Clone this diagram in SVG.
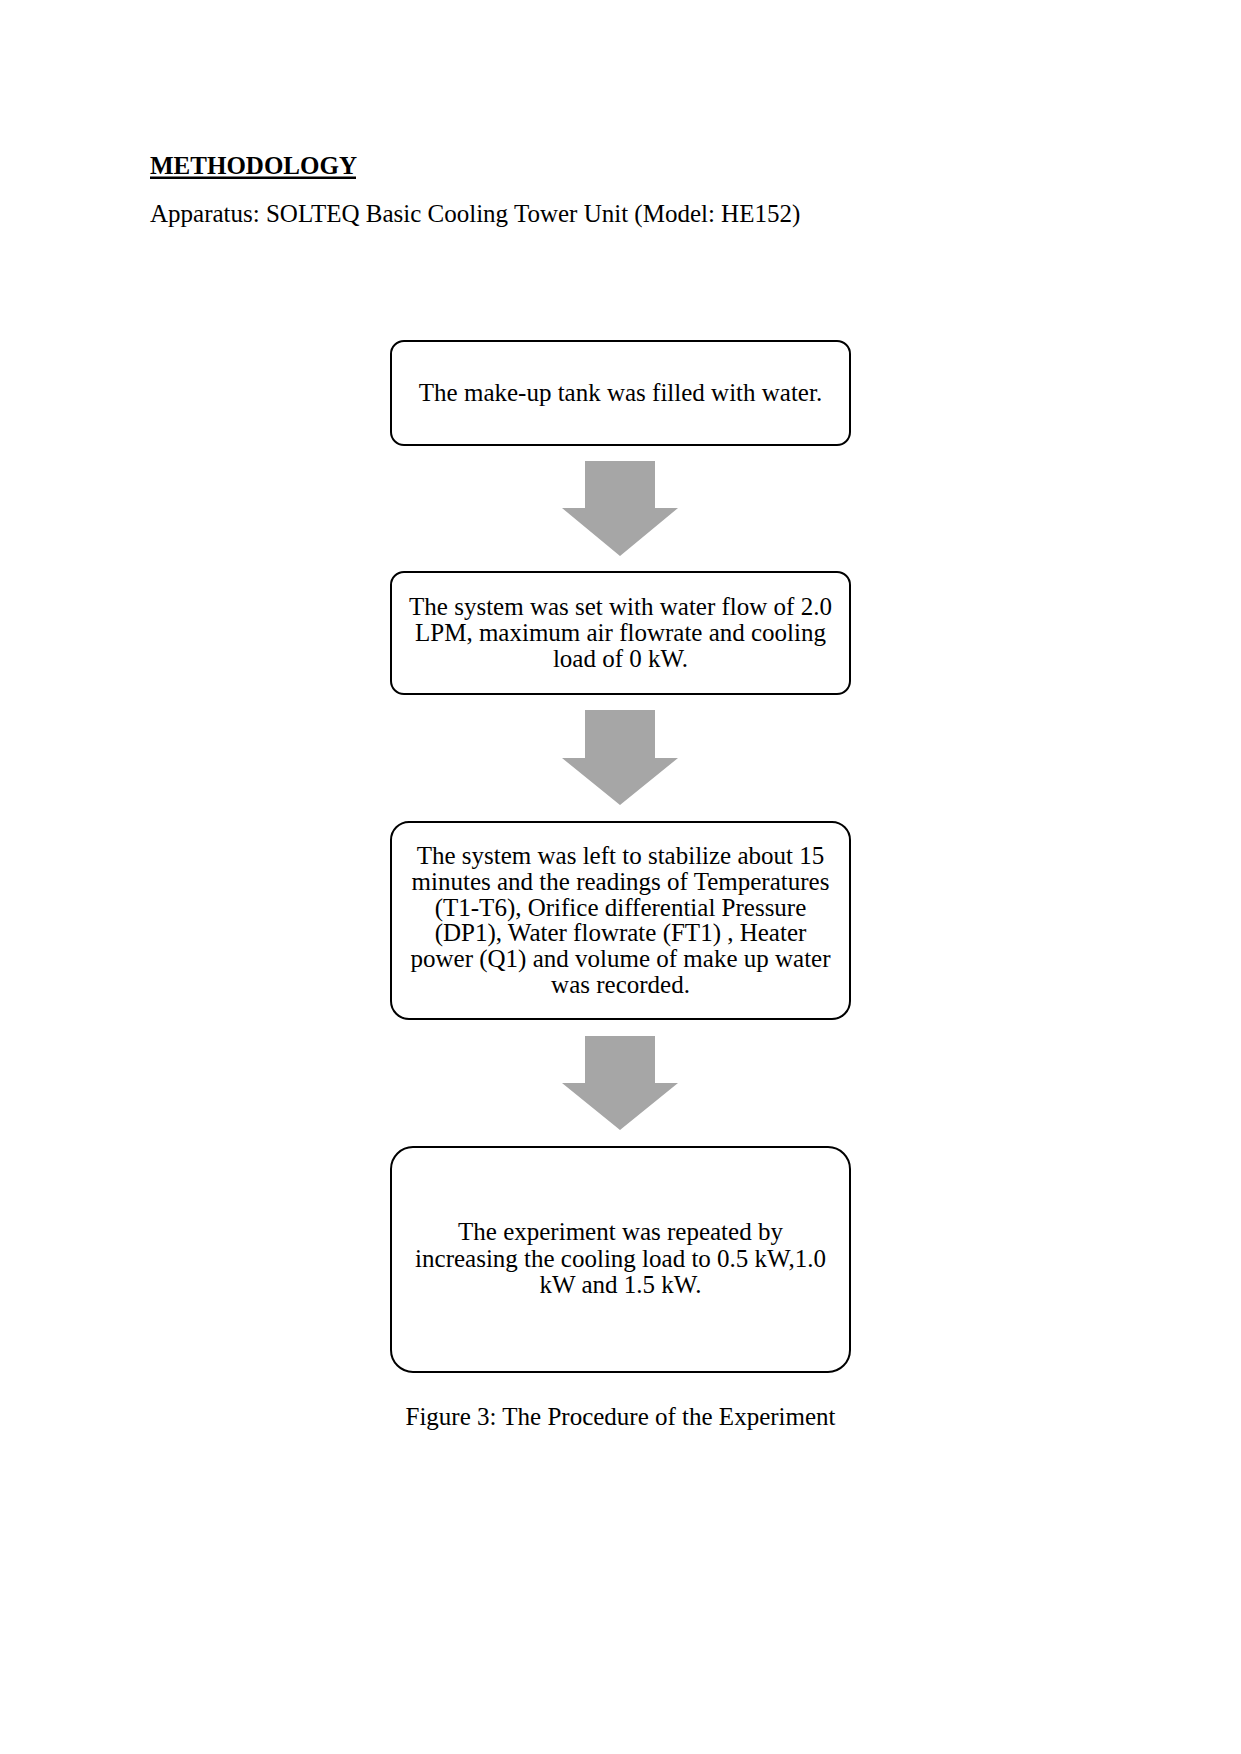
<svg xmlns="http://www.w3.org/2000/svg" width="1241" height="1754" viewBox="0 0 1241 1754">
<style>
text{font-family:"Liberation Serif","Times New Roman",serif;font-size:25px;fill:#000}
.c{text-anchor:middle}
.box{fill:#fff;stroke:#000;stroke-width:2}
.arr{fill:#a6a6a6}
</style>
<rect width="1241" height="1754" fill="#fff"/>
<text x="150" y="174" font-weight="bold">METHODOLOGY</text>
<rect x="150" y="176.5" width="206" height="2.5" fill="#000"/>
<text x="150" y="221.5">Apparatus: SOLTEQ Basic Cooling Tower Unit (Model: HE152)</text>
<g id="connectors">
<polygon class="arr" points="585,461 655,461 655,508 678,508 620,556 562,508 585,508"/>
<polygon class="arr" points="585,710 655,710 655,758 678,758 620,805 562,758 585,758"/>
<polygon class="arr" points="585,1036 655,1036 655,1083 678,1083 620,1130 562,1083 585,1083"/>
</g>
<g id="n1">
<rect class="box" x="391" y="341" width="459" height="104" rx="13"/>
<text class="c" x="620.5" y="401">The make-up tank was filled with water.</text>
</g>
<g id="n2">
<rect class="box" x="391" y="572" width="459" height="122" rx="13"/>
<text class="c" x="620.5" y="615">The system was set with water flow of 2.0</text>
<text class="c" x="620.5" y="641">LPM, maximum air flowrate and cooling</text>
<text class="c" x="620.5" y="667">load of 0 kW.</text>
</g>
<g id="n3">
<rect class="box" x="391" y="822" width="459" height="197" rx="18"/>
<text class="c" x="620.5" y="864">The system was left to stabilize about 15</text>
<text class="c" x="620.5" y="890">minutes and the readings of Temperatures</text>
<text class="c" x="620.5" y="915.5">(T1-T6), Orifice differential Pressure</text>
<text class="c" x="620.5" y="941">(DP1), Water flowrate (FT1) , Heater</text>
<text class="c" x="620.5" y="967">power (Q1) and volume of make up water</text>
<text class="c" x="620.5" y="993">was recorded.</text>
</g>
<g id="n4">
<rect class="box" x="391" y="1147" width="459" height="225" rx="22"/>
<text class="c" x="620.5" y="1240">The experiment was repeated by</text>
<text class="c" x="620.5" y="1266.5">increasing the cooling load to 0.5 kW,1.0</text>
<text class="c" x="620.5" y="1292.5">kW and 1.5 kW.</text>
</g>
<text class="c" x="620.5" y="1425">Figure 3: The Procedure of the Experiment</text>
</svg>
